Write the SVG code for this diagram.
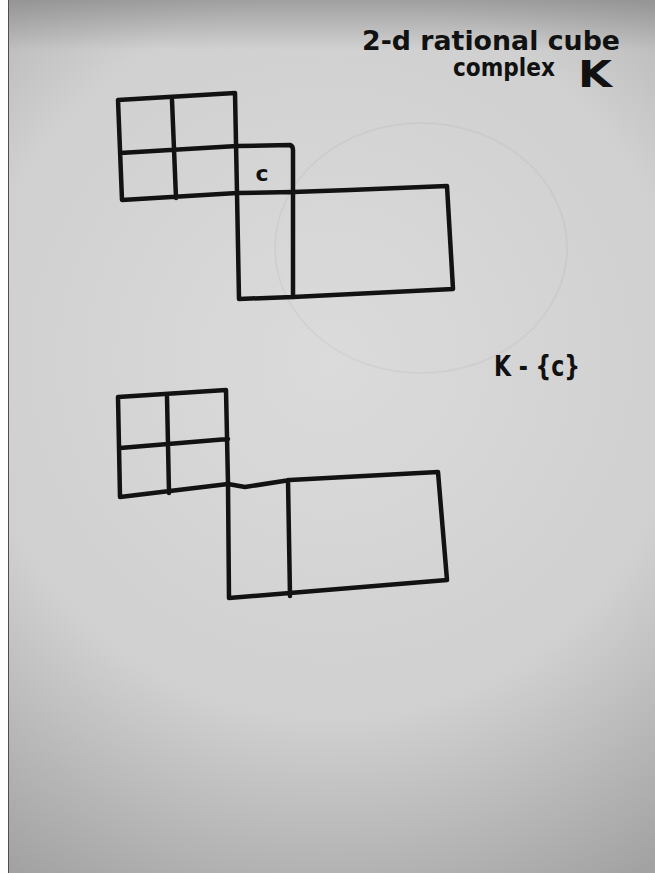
<svg xmlns="http://www.w3.org/2000/svg" width="655" height="873" viewBox="0 0 655 873">
  <defs>
    <radialGradient id="paper" cx="330" cy="360" r="600" gradientUnits="userSpaceOnUse">
      <stop offset="0" stop-color="#dbdbdb"/>
      <stop offset="0.6" stop-color="#d0d0d0"/>
      <stop offset="1" stop-color="#a3a2a2"/>
    </radialGradient>
    <linearGradient id="topshade" x1="0" y1="0" x2="0" y2="1">
      <stop offset="0" stop-color="#707070" stop-opacity="0.5"/>
      <stop offset="1" stop-color="#707070" stop-opacity="0"/>
    </linearGradient>
  </defs>
  <style>
    .ink { fill: none; stroke: #121212; stroke-width: 4.5; stroke-linecap: round; stroke-linejoin: round; }
    .ghost { fill: none; stroke: #000; stroke-opacity: 0.035; stroke-width: 2; }
    .hand { font-family: "DejaVu Sans", "Liberation Sans", sans-serif; font-weight: bold; fill: #111; }
  </style>

  <rect x="0" y="0" width="655" height="873" fill="#ffffff"/>
  <rect x="8" y="0" width="647" height="873" fill="url(#paper)"/>
  <rect x="8" y="0" width="647" height="50" fill="url(#topshade)"/>
  <line x1="8.5" y1="0" x2="8.5" y2="873" stroke="#5a4a44" stroke-width="1"/>

  <!-- faint bleed-through from the back of the sheet -->
  <ellipse class="ghost" cx="421" cy="248" rx="146" ry="125"/>

  <g id="complex-K">
    <!-- 2x2 block -->
    <path class="ink" d="M118,100 L235,93 L237,193 M118,100 L122,200 L237,193 M120,153 L237,146 M172,100 L176,198"/>
    <!-- cell c -->
    <path class="ink" d="M237,146 L290,145 Q293,146 293,150 L293,192"/>
    <!-- lower column cell -->
    <path class="ink" d="M237,193 L293,192 M237,193 L239,299 L293,297 M293,192 L293,297"/>
    <!-- big rectangle -->
    <path class="ink" d="M293,192 L350,190 L447,186 L453,289 L293,297"/>
  </g>
  <g id="label-c">
    <text class="hand" x="262" y="181" font-size="22" text-anchor="middle">c</text>
  </g>

  <g id="complex-K-minus-c">
    <!-- 2x2 block -->
    <path class="ink" d="M118,397 L226,390 L228,484 M118,397 L120,497 L228,484 M120,448 L228,439 M167,397 L169,493"/>
    <!-- bottom-right part -->
    <path class="ink" d="M228,484 L245,487 L290,480 L438,472 L447,580 L290,593 L229,598 L228,484 M288,480 L290,596"/>
  </g>

  <g id="labels">
    <text class="hand" x="362" y="50" font-size="27" textLength="258" lengthAdjust="spacingAndGlyphs">2-d  rational cube</text>
    <text class="hand" x="453" y="76" font-size="24" textLength="102" lengthAdjust="spacingAndGlyphs">complex</text>
    <text class="hand" x="578" y="87" font-size="38" textLength="34" lengthAdjust="spacingAndGlyphs">K</text>
    <text class="hand" x="494" y="376" font-size="28" textLength="86" lengthAdjust="spacingAndGlyphs">K - {c}</text>
  </g>
</svg>
